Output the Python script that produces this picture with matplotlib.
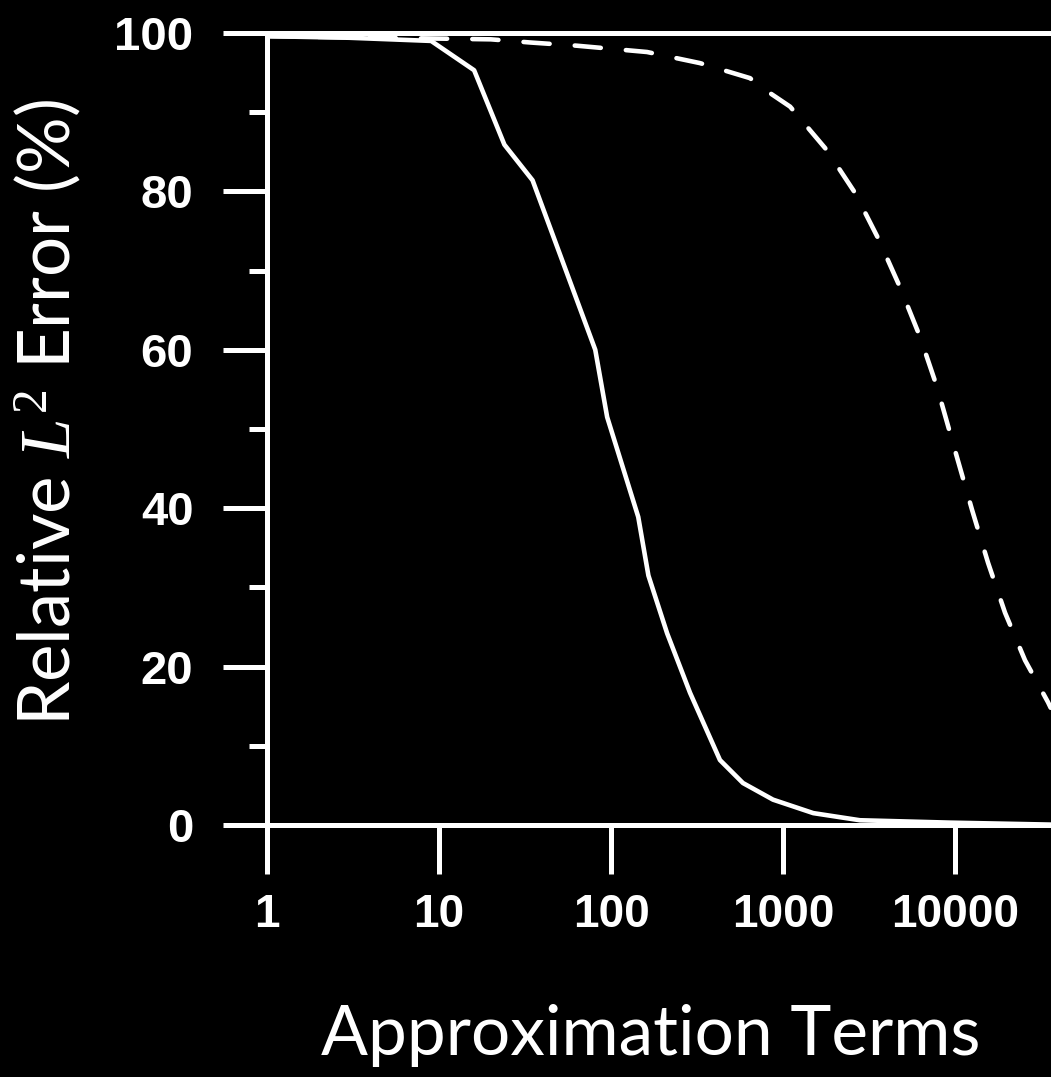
import matplotlib.pyplot as plt
from matplotlib.ticker import FixedLocator, NullLocator

# values (terms on log axis, error in %)
solid_terms = [1, 3, 9, 16, 24, 35, 81, 95, 144, 165, 212, 288, 430, 585, 875, 1500, 2800, 9300, 36000]
solid_err = [99.6, 99.4, 99.0, 95.3, 85.9, 81.4, 60.0, 51.5, 38.9, 31.5, 24.2, 16.7, 8.2, 5.3, 3.2, 1.5, 0.6, 0.3, 0.05]

dash_terms = [1, 20, 34, 63, 162, 329, 643, 766, 1100, 1800, 2625, 3570, 4790, 6270,
              7860, 10000, 12560, 15570, 19540, 25530, 34740, 36000]
dash_err = [99.6, 99.2, 98.8, 98.4, 97.6, 96.2, 94.3, 93.0, 90.7, 85.2, 79.8, 74.1, 67.9, 61.6,
            55.3, 47.3, 39.8, 33.1, 26.8, 20.8, 15.5, 14.8]

x_ticks = [1, 10, 100, 1000, 10000]
x_labels = ['1', '10', '100', '1000', '10000']
y_ticks = [0, 20, 40, 60, 80, 100]
y_minor = [10, 30, 50, 70, 90]

plt.rcParams['mathtext.fontset'] = 'custom'
plt.rcParams['mathtext.rm'] = 'Liberation Serif'
plt.rcParams['mathtext.it'] = 'Liberation Serif:italic'

fig = plt.figure(figsize=(10.51, 10.77), dpi=100, facecolor='black')
ax = fig.add_axes([267 / 1051, (1077 - 825) / 1077, 784 / 1051, 792 / 1077])
ax.set_facecolor('black')

ax.plot(solid_terms, solid_err, color='white', lw=3.3, solid_capstyle='round')
ax.plot(dash_terms, dash_err, color='white', lw=3.3, linestyle=(0, (5.7, 5.5)),
        dash_capstyle='round')

ax.set_xscale('log')
ax.set_xlim(1, 10 ** (784 / 172))
ax.set_ylim(0, 100)

ax.spines['right'].set_visible(False)
for s in ['left', 'top', 'bottom']:
    ax.spines[s].set_color('white')
    ax.spines[s].set_linewidth(3.6)

ax.xaxis.set_major_locator(FixedLocator(x_ticks))
ax.set_xticklabels(x_labels)
ax.xaxis.set_minor_locator(NullLocator())
ax.yaxis.set_major_locator(FixedLocator(y_ticks))
ax.yaxis.set_minor_locator(FixedLocator(y_minor))

ax.tick_params(axis='both', which='both', direction='out', color='white', width=3.6,
               labelcolor='white', top=False, right=False)
ax.tick_params(axis='y', which='major', length=32, pad=21)
ax.tick_params(axis='y', which='minor', length=13)
ax.tick_params(axis='x', which='major', length=35, pad=14)

for lab in ax.get_yticklabels():
    lab.set_fontfamily(['Liberation Sans', 'DejaVu Sans'])
    lab.set_fontweight('bold')
    lab.set_fontsize(34)
for lab in ax.get_xticklabels():
    lab.set_fontfamily(['Liberation Sans', 'DejaVu Sans'])
    lab.set_fontweight('bold')
    lab.set_fontsize(33)

ax.set_xlabel('Approximation Terms', color='white', fontsize=50,
              family=['Lato', 'DejaVu Sans'], va='baseline')
ax.xaxis.set_label_coords((651 - 267) / 784, (825 - 1055) / 792)
ax.set_ylabel(r'Relative $L^2$ Error (%)', color='white', fontsize=51,
              family=['Lato', 'DejaVu Sans'], va='center')
ax.yaxis.set_label_coords((48 - 267) / 784, (825 - 412) / 792)

fig.savefig('out.png', dpi=100, facecolor='black')
